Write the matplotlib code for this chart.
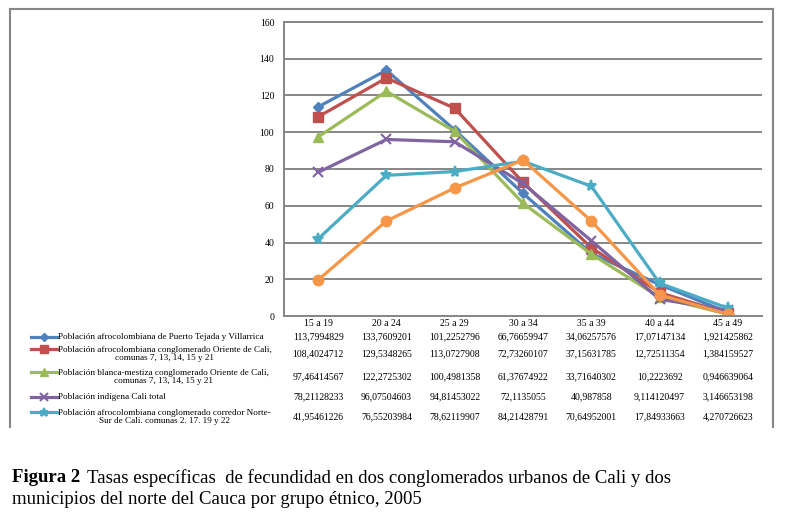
import matplotlib.pyplot as plt
from matplotlib.lines import Line2D

# age groups
grupos = ['15 a 19', '20 a 24', '25 a 29', '30 a 34', '35 a 39', '40 a 44', '45 a 49']

afro_tejada = [113.7994829, 133.7609201, 101.2252796, 66.76659947, 34.06257576, 17.07147134, 1.921425862]
afro_oriente = [108.4024712, 129.5348265, 113.0727908, 72.73260107, 37.15631785, 12.72511354, 1.384159527]
blanca_oriente = [97.46414567, 122.2725302, 100.4981358, 61.37674922, 33.71640302, 10.2223692, 0.946639064]
indigena_cali = [78.21128233, 96.07504603, 94.81453022, 72.1135055, 40.987858, 9.114120497, 3.146653198]
afro_norte_sur = [41.95461226, 76.55203984, 78.62119907, 84.21428791, 70.64952001, 17.84933663, 4.270726623]
# orange series has no row in the table
naranja = [19.6, 51.7, 69.7, 84.9, 51.7, 11.5, 1.0]

etiquetas = [
    'Población afrocolombiana de Puerto Tejada y Villarrica',
    'Población afrocolombiana conglomerado Oriente de Cali,\ncomunas 7, 13, 14, 15 y 21',
    'Población blanca-mestiza conglomerado Oriente de Cali,\ncomunas 7, 13, 14, 15 y 21',
    'Población indígena Cali total',
    'Población afrocolombiana conglomerado corredor Norte-\nSur de Cali. comunas 2. 17. 19 y 22',
]

series = [afro_tejada, afro_oriente, blanca_oriente, indigena_cali, afro_norte_sur, naranja]
colores = ['#4F81BD', '#C0504D', '#9BBB59', '#8064A2', '#4BACC6', '#F79646']
marcas = ['D', 's', '^', 'x', '*', 'o']
tam = [5, 6.5, 7, 7, 8, 7.5]

W, H = 787, 514
fig = plt.figure(figsize=(W / 100, H / 100), dpi=100)
serif = 'Liberation Serif'

def fx(px):
    return px / W

def fy(py):
    return 1 - py / H

ax = fig.add_axes([fx(284), fy(316), fx(762) - fx(284), fy(22) - fy(316)])
x = list(range(len(grupos)))
for s, c, m, ms in zip(series, colores, marcas, tam):
    ax.plot(x, s, color=c, lw=2.3, marker=m, markersize=ms, markeredgewidth=1.5 if m in 'x*' else 1,
            markerfacecolor=c, markeredgecolor=c, solid_capstyle='round')
ax.set_xlim(-0.5, 6.5)
ax.set_ylim(0, 160)
ax.set_yticks(range(0, 161, 20))
ax.set_yticklabels([str(v) for v in range(0, 161, 20)], fontsize=7, family=serif)
ax.set_xticks([])
ax.tick_params(axis='y', length=0, pad=7)
ax.grid(axis='y', color='#868686', lw=1.4)
ax.set_axisbelow(True)
for k in ['left', 'top', 'bottom']:
    ax.spines[k].set_color('#868686')
    ax.spines[k].set_linewidth(1.4)
ax.spines['right'].set_visible(False)

# outer frame (top, left, right)
gris = '#868686'
fig.add_artist(Line2D([fx(10), fx(773)], [fy(9), fy(9)], color=gris, lw=1.5))
fig.add_artist(Line2D([fx(10), fx(10)], [fy(9), fy(427)], color=gris, lw=1.5))
fig.add_artist(Line2D([fx(773), fx(773)], [fy(9), fy(427)], color=gris, lw=1.5))

# data table under the chart
cols_px = [284 + (i + 0.5) * (762 - 284) / 7 for i in range(7)]
for g, cx in zip(grupos, cols_px):
    fig.text(fx(cx), fy(324), g, ha='center', va='center', fontsize=7, family=serif)

filas_y = [337, 354, 377, 397, 417]
for s, lab, c, m, ms, yy in zip(series[:5], etiquetas, colores, marcas, tam, filas_y):
    dos = '\n' in lab
    fig.text(fx(58), fy(yy), lab, ha='left', va='center', fontsize=6.6, family=serif,
             multialignment='center', linespacing=1.1)
    sy = yy - 5.5 if dos else yy
    fig.add_artist(Line2D([fx(31), fx(57)], [fy(sy), fy(sy)], color=c, lw=2.3))
    fig.add_artist(Line2D([fx(44)], [fy(sy)], color=c, marker=m, markersize=ms * 0.8,
                          markeredgewidth=1.5 if m in 'x*' else 1, markerfacecolor=c, markeredgecolor=c))
    for v, cx in zip(s, cols_px):
        fig.text(fx(cx), fy(yy), str(v).replace('.', ','), ha='center', va='center',
                 fontsize=7, family=serif)

# caption, bold "Figura 2" then the rest
t1 = fig.text(fx(12), fy(478), 'Figura 2', ha='left', va='center', fontsize=13.5,
              family=serif, fontweight='bold')
fig.canvas.draw()
bb = t1.get_window_extent()
fig.text((bb.x1 + 7) / W, fy(478),
         'Tasas específicas  de fecundidad en dos conglomerados urbanos de Cali y dos',
         ha='left', va='center', fontsize=13.5, family=serif)
fig.text(fx(12), fy(500), 'municipios del norte del Cauca por grupo étnico, 2005',
         ha='left', va='center', fontsize=13.5, family=serif)

fig.savefig('out.png', dpi=100)
